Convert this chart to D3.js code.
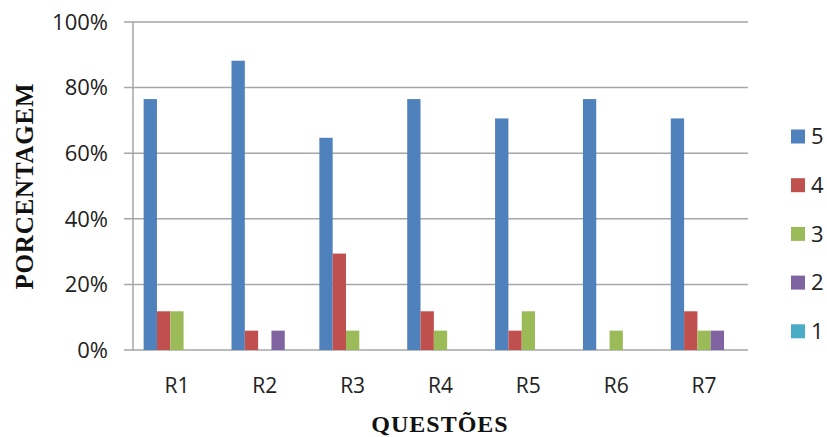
<!DOCTYPE html>
<html>
<head>
<meta charset="utf-8">
<script src="https://cdn.jsdelivr.net/npm/d3@7"></script>
<style>
  body { margin: 0; background: #fff; }
  svg { display: block; }
</style>
</head>
<body>
<svg id="chart" width="827" height="437"></svg>
<script>
// data (percent)
var questoes = ["R1", "R2", "R3", "R4", "R5", "R6", "R7"]
var keys = ["5", "4", "3", "2", "1"]
var s5 = [76.5, 88.2, 64.7, 76.5, 70.6, 76.5, 70.6]
var s4 = [11.8, 5.9, 29.4, 11.8, 5.9, 0, 11.8]
var s3 = [11.8, 0, 5.9, 5.9, 11.8, 5.9, 5.9]
var s2 = [0, 5.9, 0, 0, 0, 0, 5.9]
var s1 = [0, 0, 0, 0, 0, 0, 0]
var yTicks = [0, 20, 40, 60, 80, 100]
var colors = ["#4f81bd", "#c0504d", "#9bbb59", "#8064a2", "#4bacc6"]

var series = { "5": s5, "4": s4, "3": s3, "2": s2, "1": s1 }
var data = questoes.map((q, i) => {
    var d = { name: q }
    keys.forEach(k => d[k] = series[k][i])
    return d
})

var svg = d3.select("#chart"),
    margin = { top: 22, left: 133, bottom: 87, right: 79 },
    width = 827, height = 437;

var x = d3.scaleBand()
    .domain(questoes)
    .range([margin.left, width - margin.right])

var x1 = d3.scaleBand()
    .domain(keys)
    .range([0, x.bandwidth()])
    .paddingOuter(0.8)

var y = d3.scaleLinear()
    .domain([0, 100])
    .range([height - margin.bottom, margin.top])

var z = d3.scaleOrdinal().domain(keys).range(colors)

// gridlines
svg.append("g")
    .selectAll("line")
    .data(yTicks)
    .join("line")
    .attr("x1", margin.left - 9)
    .attr("x2", width - margin.right)
    .attr("y1", d => y(d))
    .attr("y2", d => y(d))
    .attr("stroke", "#a6a6a6")
    .attr("stroke-width", 1.5)

// y axis line
svg.append("line")
    .attr("x1", margin.left).attr("x2", margin.left)
    .attr("y1", y(100)).attr("y2", y(0))
    .attr("stroke", "#a6a6a6")
    .attr("stroke-width", 1.5)

// y labels
svg.append("g")
    .selectAll("text")
    .data(yTicks)
    .join("text")
    .attr("x", 108)
    .attr("y", d => y(d))
    .attr("dy", "0.35em")
    .attr("text-anchor", "end")
    .style("font", "22px 'Open Sans'")
    .attr("fill", "#222")
    .text(d => d + "%")

// x labels
svg.append("g")
    .selectAll("text")
    .data(questoes)
    .join("text")
    .attr("x", d => x(d) + x.bandwidth() / 2)
    .attr("y", 393)
    .attr("text-anchor", "middle")
    .style("font", "21px 'Open Sans'")
    .attr("fill", "#222")
    .text(d => d)

// bars
var group = svg.append("g")
    .selectAll("g")
    .data(data)
    .join("g")
    .attr("transform", d => `translate(${x(d.name)},0)`)

group.selectAll("rect")
    .data(d => keys.map(k => ({ key: k, value: d[k] })).filter(e => e.value > 0))
    .join("rect")
    .attr("x", d => x1(d.key))
    .attr("width", x1.bandwidth())
    .attr("y", d => y(d.value))
    .attr("height", d => y(0) - y(d.value))
    .attr("fill", d => z(d.key))

// axis titles
svg.append("text")
    .attr("transform", "translate(33,186) rotate(-90)")
    .attr("text-anchor", "middle")
    .style("font", "bold 25px 'Liberation Serif'")
    .style("letter-spacing", "0.8px")
    .attr("fill", "#111")
    .text("PORCENTAGEM")

svg.append("text")
    .attr("x", 440)
    .attr("y", 432)
    .attr("text-anchor", "middle")
    .style("font", "bold 24px 'Liberation Serif'")
    .style("letter-spacing", "1px")
    .attr("fill", "#111")
    .text("QUESTÕES")

// legend
var legend = svg.append("g")
    .selectAll("g")
    .data(keys)
    .join("g")
    .attr("transform", (d, i) => `translate(791,${136.5 + i * 48.7})`)

legend.append("rect")
    .attr("x", 0).attr("y", -7)
    .attr("width", 14).attr("height", 14)
    .attr("fill", d => z(d))

legend.append("text")
    .attr("x", 20)
    .attr("y", 0)
    .attr("dy", "0.35em")
    .style("font", "22px 'Open Sans'")
    .attr("fill", "#222")
    .text(d => d)
</script>
</body>
</html>
